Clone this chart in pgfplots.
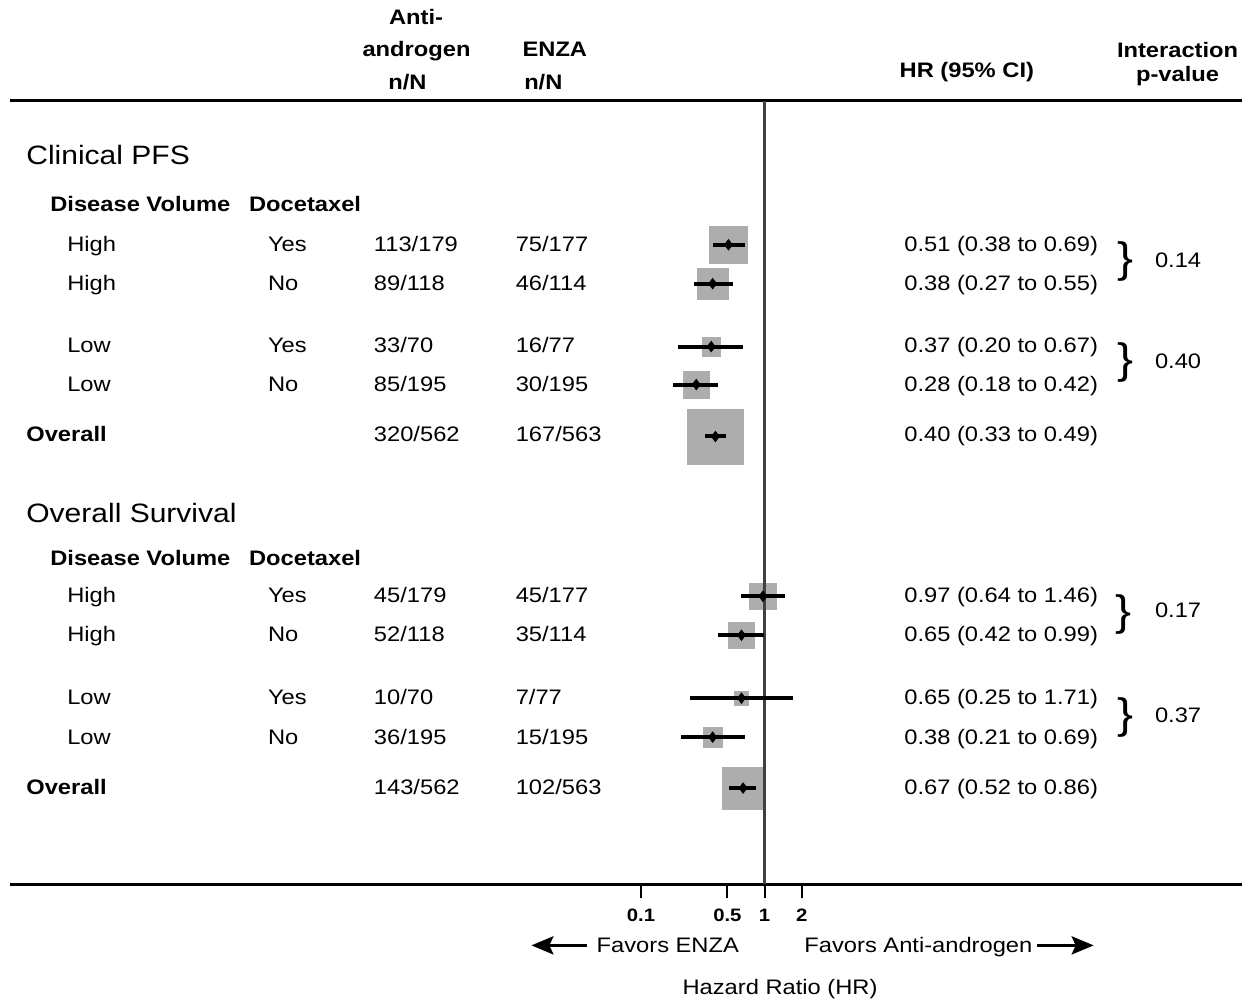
\documentclass[border=0pt]{standalone}
\usepackage{pgfplots}
\pgfplotsset{compat=1.18}
\usepackage{pgfplotstable}
\usepackage{fontspec}
\setmainfont{Liberation Sans}[FakeStretch=1.13]
\usetikzlibrary{arrows.meta}
\definecolor{boxgray}{RGB}{173,173,173}

% row = vertical position of the row (pixels from the top), box = side of the weight square
\pgfplotstableread{
row hr   lo   hi   box
245 0.51 0.38 0.69 38
284 0.38 0.27 0.55 32
347 0.37 0.20 0.67 19
385 0.28 0.18 0.42 27
437 0.40 0.33 0.49 56
}\pfs
\pgfplotstableread{
row hr   lo   hi   box
597 0.97 0.64 1.46 27
636 0.65 0.42 0.99 26
699 0.65 0.25 1.71 14
738 0.38 0.21 0.69 20
789 0.67 0.52 0.86 42
}\os

\newcommand\body{\fontsize{10.5}{12}\selectfont}
\newcommand\head{\fontsize{13.3}{15}\selectfont}

\pgfplotsset{
  weightbox/.style={scatter, only marks, mark=square*,
    mark options={draw=boxgray, fill=boxgray, line width=0.2pt},
    scatter/use mapped color={draw=boxgray, fill=boxgray},
    visualization depends on={\thisrow{box} \as \bsz},
    scatter/@pre marker code/.append style={/tikz/mark size=0.25*\bsz-0.1}},
  estimate/.style={black, only marks, mark=diamond*, mark size=2.6pt,
    error bars/.cd, x dir=both, x explicit, error mark=none,
    error bar style={line width=2pt, black}},
}

\begin{document}
\begin{tikzpicture}
\begin{scope}[x=0.5pt,y=-0.5pt]
  \path (0,0) rectangle (1243,1003);
\end{scope}

% axis with the HR scale and the weight squares
\begin{axis}[
  at={(5pt,-442.75pt)}, anchor=south west,
  scale only axis, width=616.5pt, height=392.25pt,
  xmode=log, xmin=7.85e-7, xmax=7222,
  ymin=-885.5, ymax=-101, clip=false,
  axis x line*=bottom, axis y line=none, ytick=\empty,
  xtick={0.1,0.5,1,2}, xticklabels={0.1,0.5,1,2}, minor xtick={},
  tick align=outside, major tick length=7pt,
  every tick/.style={black, line width=1pt},
  x axis line style={line width=1.5pt},
  xticklabel style={font=\bfseries\fontsize{9}{10}\selectfont, inner sep=0pt, yshift=-5pt},
]
  \draw[line width=1.5pt] (rel axis cs:0,1) -- (rel axis cs:1,1);
  \addplot[weightbox] table[x=hr, y expr=-\thisrow{row}] {\pfs};
  \addplot[weightbox] table[x=hr, y expr=-\thisrow{row}] {\os};
\end{axis}

% same frame on top: reference line, confidence intervals and point estimates
\begin{axis}[
  at={(5pt,-442.75pt)}, anchor=south west,
  scale only axis, width=616.5pt, height=392.25pt,
  xmode=log, xmin=7.85e-7, xmax=7222,
  ymin=-885.5, ymax=-101, clip=false,
  hide axis,
]
  \addplot[line width=1.2pt, black!75] coordinates {(1,-101) (1,-885.5)};
  \addplot[estimate] table[x=hr, y expr=-\thisrow{row},
      x error plus expr=\thisrow{hi}-\thisrow{hr},
      x error minus expr=\thisrow{hr}-\thisrow{lo}] {\pfs};
  \addplot[estimate] table[x=hr, y expr=-\thisrow{row},
      x error plus expr=\thisrow{hi}-\thisrow{hr},
      x error minus expr=\thisrow{hr}-\thisrow{lo}] {\os};
\end{axis}

\begin{scope}[x=0.5pt,y=-0.5pt, every node/.style={inner sep=0pt, anchor=base west, font=\body}]
  % column headers
  \begin{scope}[every node/.style={inner sep=0pt, anchor=base, font=\body\bfseries}]
    \node at (416.5,25) {Anti-};
    \node at (417,56.5) {androgen};
    \node at (408,90) {n/N};
    \node at (555.5,56.5) {ENZA};
    \node at (544,90) {n/N};
    \node at (968,77.5) {HR (95\% CI)};
    \node at (1179,57.5) {Interaction};
    \node at (1179,82) {p-value};
  \end{scope}

  % Clinical PFS block
  \node[font=\head] at (26,165) {Clinical PFS};
  \node[font=\body\bfseries] at (50,211.5) {Disease Volume};
  \node[font=\body\bfseries] at (249,211.5) {Docetaxel};

  \node at (67,251.5) {High}; \node at (268,251.5) {Yes};
  \node at (374,251.5) {113/179}; \node at (516,251.5) {75/177};
  \node at (905,251.5) {0.51 (0.38 to 0.69)};

  \node at (67,290.5) {High}; \node at (268,290.5) {No};
  \node at (374,290.5) {89/118}; \node at (516,290.5) {46/114};
  \node at (905,290.5) {0.38 (0.27 to 0.55)};

  \node at (67,353) {Low}; \node at (268,353) {Yes};
  \node at (374,353) {33/70}; \node at (516,353) {16/77};
  \node at (905,353) {0.37 (0.20 to 0.67)};

  \node at (67,391.5) {Low}; \node at (268,391.5) {No};
  \node at (374,391.5) {85/195}; \node at (516,391.5) {30/195};
  \node at (905,391.5) {0.28 (0.18 to 0.42)};

  \node[font=\body\bfseries] at (26,442.5) {Overall};
  \node at (374,442.5) {320/562}; \node at (516,442.5) {167/563};
  \node at (905,442.5) {0.40 (0.33 to 0.49)};

  \node[font=\fontsize{21.3}{22}\selectfont] at (1118,273) {\}};
  \node at (1156,268) {0.14};
  \node[font=\fontsize{21.3}{22}\selectfont] at (1118,374) {\}};
  \node at (1156,369) {0.40};

  % Overall Survival block
  \node[font=\head] at (26,523) {Overall Survival};
  \node[font=\body\bfseries] at (50,566.5) {Disease Volume};
  \node[font=\body\bfseries] at (249,566.5) {Docetaxel};

  \node at (67,603.5) {High}; \node at (268,603.5) {Yes};
  \node at (374,603.5) {45/179}; \node at (516,603.5) {45/177};
  \node at (905,603.5) {0.97 (0.64 to 1.46)};

  \node at (67,642.5) {High}; \node at (268,642.5) {No};
  \node at (374,642.5) {52/118}; \node at (516,642.5) {35/114};
  \node at (905,642.5) {0.65 (0.42 to 0.99)};

  \node at (67,705) {Low}; \node at (268,705) {Yes};
  \node at (374,705) {10/70}; \node at (516,705) {7/77};
  \node at (905,705) {0.65 (0.25 to 1.71)};

  \node at (67,745) {Low}; \node at (268,745) {No};
  \node at (374,745) {36/195}; \node at (516,745) {15/195};
  \node at (905,745) {0.38 (0.21 to 0.69)};

  \node[font=\body\bfseries] at (26,795.5) {Overall};
  \node at (374,795.5) {143/562}; \node at (516,795.5) {102/563};
  \node at (905,795.5) {0.67 (0.52 to 0.86)};

  \node[font=\fontsize{21.3}{22}\selectfont] at (1116,626) {\}};
  \node at (1156,618) {0.17};
  \node[font=\fontsize{21.3}{22}\selectfont] at (1118,729) {\}};
  \node at (1156,723) {0.37};

  % direction labels under the axis
  \node at (597,954) {Favors ENZA};
  \node at (805,954) {Favors Anti-androgen};
  \draw[line width=1.7pt, -{Stealth[length=11pt, width=9pt, inset=2pt]}] (588,946.5) -- (532,946.5);
  \draw[line width=1.7pt, -{Stealth[length=11pt, width=9pt, inset=2pt]}] (1038,946.5) -- (1095,946.5);
  \node at (683,995.5) {Hazard Ratio (HR)};
\end{scope}
\end{tikzpicture}
\end{document}
